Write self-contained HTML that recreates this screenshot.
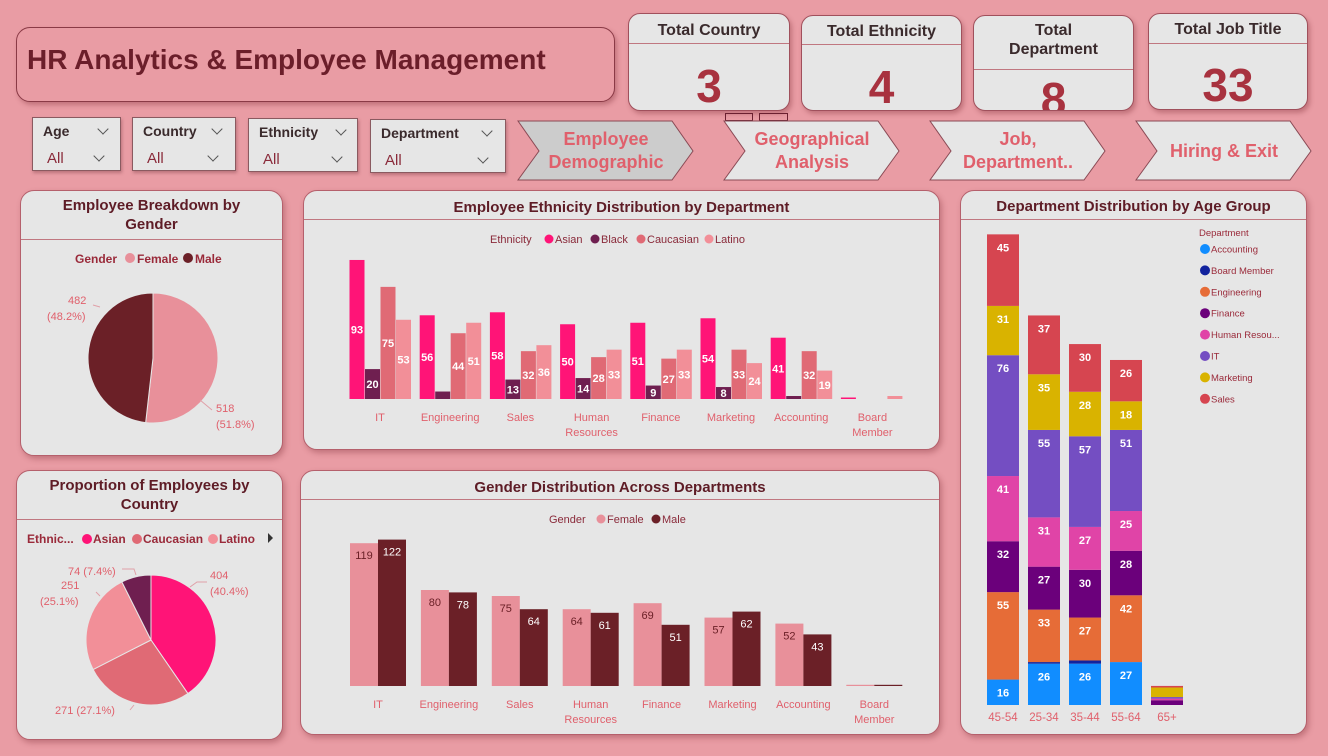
<!DOCTYPE html>
<html><head><meta charset="utf-8">
<style>
*{box-sizing:border-box;margin:0;padding:0}
body{width:1328px;height:756px;background:#e99ca4;font-family:"Liberation Sans",sans-serif;position:relative;overflow:hidden}
.abs{position:absolute}
.panel{position:absolute;background:#e6e6e6;border:1px solid #b5606c;border-radius:14px;box-shadow:2px 3px 6px rgba(120,40,50,.35)}
.ptitle{position:absolute;left:0;right:0;text-align:center;color:#5e1c26;font-weight:bold;font-size:15px;line-height:19px}
.pline{position:absolute;left:0;right:0;border-top:1px solid #c07780}
.kpi{position:absolute;background:#e6e6e6;border:1px solid #a0505c;border-radius:12px;box-shadow:2px 3px 5px rgba(120,40,50,.35);text-align:center}
.kpi .t{color:#3a2a2c;font-weight:bold;font-size:16px;line-height:19px}
.kpi .v{position:absolute;left:0;right:0;color:#a8323f;font-weight:bold;font-size:46px}
.slicer{position:absolute;background:#e6e6e6;border:1px solid #8a5a60;box-shadow:1px 2px 3px rgba(100,40,50,.35)}
.slicer .h{position:absolute;left:10px;top:5px;font-size:14px;font-weight:bold;color:#3a2a2c}
.slicer .a{position:absolute;left:14px;bottom:3px;font-size:15px;color:#8a2a3a}
.chev{position:absolute;width:8px;height:8px;border-right:1px solid #555;border-bottom:1px solid #555;transform:rotate(45deg)}
.btn{position:absolute}
.btn span{position:absolute;left:0;right:0;text-align:center;color:#e0606c;font-weight:bold;font-size:18px;line-height:23px}
svg text{font-family:"Liberation Sans",sans-serif}
</style></head><body>

<div class="abs" style="left:16px;top:27px;width:599px;height:75px;background:#e99ca4;border:1px solid #8a3a46;border-radius:14px;box-shadow:2px 3px 5px rgba(120,40,50,.35)">
<div style="position:absolute;left:10px;top:16px;font-size:28px;font-weight:bold;color:#6b1e2a">HR Analytics &amp; Employee Management</div></div>

<div class="kpi" style="left:628px;top:13px;width:162px;height:98px"><div class="t" style="margin-top:7px">Total Country</div><div class="pline" style="top:29px"></div><div class="v" style="top:45px">3</div></div>
<div class="kpi" style="left:801px;top:15px;width:161px;height:96px"><div class="t" style="margin-top:6px">Total Ethnicity</div><div class="pline" style="top:28px"></div><div class="v" style="top:44px">4</div></div>
<div class="kpi" style="left:973px;top:15px;width:161px;height:96px;overflow:hidden"><div class="t" style="margin-top:5px">Total<br>Department</div><div class="pline" style="top:53px"></div><div class="v" style="top:56px">8</div></div>
<div class="kpi" style="left:1148px;top:13px;width:160px;height:97px"><div class="t" style="margin-top:6px">Total Job Title</div><div class="pline" style="top:29px"></div><div class="v" style="top:44px">33</div></div>

<div class="abs" style="left:725px;top:113px;width:28px;height:8px;border:1px solid #6b2030"></div>
<div class="abs" style="left:759px;top:113px;width:29px;height:8px;border:1px solid #6b2030"></div>

<div class="slicer" style="left:32px;top:117px;width:89px;height:54px"><div class="h">Age</div><div class="chev" style="left:66px;top:7px"></div><div class="a">All</div><div class="chev" style="left:62px;top:34px"></div></div>
<div class="slicer" style="left:132px;top:117px;width:104px;height:54px"><div class="h">Country</div><div class="chev" style="left:80px;top:7px"></div><div class="a">All</div><div class="chev" style="left:76px;top:34px"></div></div>
<div class="slicer" style="left:248px;top:118px;width:110px;height:54px"><div class="h">Ethnicity</div><div class="chev" style="left:88px;top:7px"></div><div class="a">All</div><div class="chev" style="left:84px;top:34px"></div></div>
<div class="slicer" style="left:370px;top:119px;width:136px;height:54px"><div class="h">Department</div><div class="chev" style="left:112px;top:7px"></div><div class="a">All</div><div class="chev" style="left:108px;top:34px"></div></div>

<div class="btn" style="left:517px;top:120px;width:178px;height:62px">
<svg width="178" height="62" style="position:absolute;left:0;top:0"><polygon points="1,1 155,1 176,31 155,60 1,60 22,31" fill="#cccccc" stroke="#8a4a55"/></svg><span style="top:8px">Employee<br>Demographic</span></div>
<div class="btn" style="left:723px;top:120px;width:178px;height:62px">
<svg width="178" height="62" style="position:absolute;left:0;top:0"><polygon points="1,1 155,1 176,31 155,60 1,60 22,31" fill="#e6e6e6" stroke="#8a4a55"/></svg><span style="top:8px">Geographical<br>Analysis</span></div>
<div class="btn" style="left:929px;top:120px;width:178px;height:62px">
<svg width="178" height="62" style="position:absolute;left:0;top:0"><polygon points="1,1 155,1 176,31 155,60 1,60 22,31" fill="#e6e6e6" stroke="#8a4a55"/></svg><span style="top:8px">Job,<br>Department..</span></div>
<div class="btn" style="left:1135px;top:120px;width:178px;height:62px">
<svg width="178" height="62" style="position:absolute;left:0;top:0"><polygon points="1,1 155,1 176,31 155,60 1,60 22,31" fill="#e6e6e6" stroke="#8a4a55"/></svg><span style="top:20px">Hiring &amp; Exit</span></div>

<div class="panel" style="left:20px;top:190px;width:263px;height:266px">
<div class="ptitle" style="top:5px">Employee Breakdown by<br>Gender</div><div class="pline" style="top:48px"></div></div>
<div class="panel" style="left:303px;top:190px;width:637px;height:260px">
<div class="ptitle" style="top:7px">Employee Ethnicity Distribution by Department</div><div class="pline" style="top:28px"></div></div>
<div class="panel" style="left:16px;top:470px;width:267px;height:270px">
<div class="ptitle" style="top:5px">Proportion of Employees by<br>Country</div><div class="pline" style="top:48px"></div></div>
<div class="panel" style="left:300px;top:470px;width:640px;height:265px">
<div class="ptitle" style="top:7px">Gender Distribution Across Departments</div><div class="pline" style="top:28px"></div></div>
<div class="panel" style="left:960px;top:190px;width:347px;height:545px">
<div class="ptitle" style="top:6px">Department Distribution by Age Group</div><div class="pline" style="top:28px"></div></div>

<svg id="ov" width="1328" height="756" style="position:absolute;left:0;top:0"></svg>

<script>
// Gender pie
const genderCats=["Female","Male"];
const genderVals=[518,482];
// Country/ethnicity pie
const ethPieCats=["Asian","Caucasian","Latino","Black"];
const ethPieVals=[404,271,251,74];
// Ethnicity by department
const deptCats=["IT","Engineering","Sales","Human Resources","Finance","Marketing","Accounting","Board Member"];
const ethSeries=["Asian","Black","Caucasian","Latino"];
const asianVals=[93,56,58,50,51,54,41,1];
const blackVals=[20,5,13,14,9,8,2,0];
const caucVals=[75,44,32,28,27,33,32,0];
const latinoVals=[53,51,36,33,33,24,19,2];
// Gender by department
const femaleVals=[119,80,75,64,69,57,52,1];
const maleVals=[122,78,64,61,51,62,43,1];
// Age group stacked
const ageCats=["45-54","25-34","35-44","55-64","65+"];
const stackDepts=["Accounting","Board Member","Engineering","Finance","Human Resou...","IT","Marketing","Sales"];
const accVals=[16,26,26,27,0];
const boardVals=[0,1,2,0,0];
const engVals=[55,33,27,42,0];
const finVals=[32,27,30,28,3];
const hrVals=[41,31,27,25,1];
const itVals=[76,55,57,51,1];
const mktVals=[31,35,28,18,6];
const salesVals=[45,37,30,26,1];

const NS="http://www.w3.org/2000/svg";
const svg=document.getElementById('ov');
function mk(tag,attrs,parent){const e=document.createElementNS(NS,tag);for(const k in attrs)e.setAttribute(k,attrs[k]);(parent||svg).appendChild(e);return e;}
function txt(x,y,s,attrs,name){const t=mk('text',Object.assign({x:x,y:y},attrs));t.textContent=s;


return t;}

function pie(cx,cy,r,vals,colors,nm){
  const tot=vals.reduce((a,b)=>a+b,0);let a0=-Math.PI/2;const out=[];
  vals.forEach((v,i)=>{const a1=a0+v/tot*2*Math.PI;
    const large=(a1-a0)>Math.PI?1:0;
    const p=mk('path',{d:`M${cx},${cy} L${cx+r*Math.cos(a0)},${cy+r*Math.sin(a0)} A${r},${r} 0 ${large} 1 ${cx+r*Math.cos(a1)},${cy+r*Math.sin(a1)} Z`,fill:colors[i],stroke:'#e6e6e6','stroke-width':1});
    
    
    out.push((a0+a1)/2);a0=a1;});
  return out;
}
// gender pie
const gCol=["#e8909a","#6b2027"];
pie(153,358,65,genderVals,gCol,'gender');
const gt=genderVals.reduce((a,b)=>a+b,0);
const lbl={fill:'#e0606c','font-size':11};
txt(216,412,String(genderVals[0]),lbl,'female-value-label');
txt(216,428,'('+(genderVals[0]/gt*100).toFixed(1)+'%)',lbl,'female-pct-label');
txt(68,304,String(genderVals[1]),lbl,'male-value-label');
txt(47,320,'('+(genderVals[1]/gt*100).toFixed(1)+'%)',lbl,'male-pct-label');
mk('path',{d:'M200,400 L212,410',stroke:'#e0a0a8',fill:'none'});
mk('path',{d:'M93,305 L100,307',stroke:'#e0a0a8',fill:'none'});
// gender legend
txt(75,263,'Gender',{fill:'#9a2a3a','font-size':12,'font-weight':'bold'},'gender-legend-title');
genderCats.forEach((c,i)=>{const x=[130,188][i];
 const d=mk('circle',{cx:x,cy:258,r:5,fill:gCol[i]});
 txt(x+7,263,c,{fill:'#9a2a3a','font-size':12,'font-weight':'bold'},'gender-legend-'+c.toLowerCase());});

// country pie
const eCol=["#ff1477","#e06a75","#f28f98","#6f1f50"];
pie(151,640,65,ethPieVals,eCol,'ethnicity-pie');
const et=ethPieVals.reduce((a,b)=>a+b,0);
const pc=i=>(ethPieVals[i]/et*100).toFixed(1)+'%';
txt(210,579,String(ethPieVals[0]),lbl,'asian-value-label');
txt(210,595,'('+pc(0)+')',lbl,'asian-pct-label');
txt(55,714,ethPieVals[1]+' ('+pc(1)+')',lbl,'caucasian-value-label');
txt(61,589,String(ethPieVals[2]),lbl,'latino-value-label');
txt(40,605,'('+pc(2)+')',lbl,'latino-pct-label');
txt(68,575,ethPieVals[3]+' ('+pc(3)+')',lbl,'black-value-label');
mk('path',{d:'M190,587 L197,582 L207,582',stroke:'#e0a0a8',fill:'none'});
mk('path',{d:'M130,710 L134,705',stroke:'#e0a0a8',fill:'none'});
mk('path',{d:'M96,592 L100,596',stroke:'#e0a0a8',fill:'none'});
mk('path',{d:'M122,569 L134,569 L136,575',stroke:'#e0a0a8',fill:'none'});
const lb2={fill:'#9a2a3a','font-size':12,'font-weight':'bold'};
txt(27,543,'Ethnic...',lb2,'country-legend-title');
[["Asian",87],["Caucasian",137],["Latino",213]].forEach((e,i)=>{
 const d=mk('circle',{cx:e[1],cy:539,r:5,fill:eCol[i]});
 txt(e[1]+6,543,e[0],lb2,'country-legend-'+e[0].toLowerCase());});
const ar=mk('path',{d:'M268,533 L273,538 L268,543 Z',fill:'#333'});

// ethnicity grouped bars
const ethData=[asianVals,blackVals,caucVals,latinoVals];
const ethCol=["#ff1477","#6f1f50","#e06a75","#f28f98"];
const eBase=399, eScale=1.495;
const eX=i=>380+i*70.2;
const eY=v=>eBase-v*eScale;
ethData.forEach((arr,s)=>arr.forEach((v,i)=>{
  const x=eX(i)+(s-2)*15.5+0.5;const h=v*eScale;
  const r=mk('rect',{x:x,y:eY(v),width:15,height:h,fill:ethCol[s]});
  
  
  if(v>=8) txt(x+7.5,eY(v)+h/2+4,String(v),{fill:'#fff','font-size':11,'font-weight':'bold','text-anchor':'middle'},'ethnicity-bar-label');
}));
deptCats.forEach((c,i)=>{const w=c.split(' ');
 const two=(c==="Human Resources"||c==="Board Member");
 if(two){txt(eX(i)+1,421,w[0],{fill:'#e0606c','font-size':11,'text-anchor':'middle'},'ethnicity-x-label');txt(eX(i)+1,436,w[1],{fill:'#e0606c','font-size':11,'text-anchor':'middle'},'ethnicity-x-label');}
 else txt(eX(i),421,c,{fill:'#e0606c','font-size':11,'text-anchor':'middle'},'ethnicity-x-label');});
const lb3={fill:'#8a2a3a','font-size':11};
txt(490,243,'Ethnicity',lb3,'ethnicity-legend-title');
[["Asian",549],["Black",595],["Caucasian",641],["Latino",709]].forEach((e,i)=>{
 const d=mk('circle',{cx:e[1],cy:239,r:4.5,fill:ethCol[i]});
 txt(e[1]+6,243,e[0],lb3,'ethnicity-legend-'+e[0].toLowerCase());});

// gender by department
const gBase=686,gScale=1.2;
const gX=i=>378+i*70.9;
const gY=v=>gBase-v*gScale;
[femaleVals,maleVals].forEach((arr,s)=>arr.forEach((v,i)=>{
  const x=gX(i)+(s===0?-28:0);const h=v*gScale;
  const r=mk('rect',{x:x,y:gY(v),width:28,height:h,fill:gCol[s]});
  
  
  if(v>=5) txt(x+14,gY(v)+16,String(v),{fill:s===0?'#6b2027':'#fff','font-size':11,'text-anchor':'middle'},'gender-dept-bar-label');
}));
deptCats.forEach((c,i)=>{const w=c.split(' ');
 const two=(c==="Human Resources"||c==="Board Member");
 if(two){txt(gX(i),708,w[0],{fill:'#e0606c','font-size':11,'text-anchor':'middle'},'gender-dept-x-label');txt(gX(i),723,w[1],{fill:'#e0606c','font-size':11,'text-anchor':'middle'},'gender-dept-x-label');}
 else txt(gX(i),708,c,{fill:'#e0606c','font-size':11,'text-anchor':'middle'},'gender-dept-x-label');});
txt(549,523,'Gender',lb3,'gender-dept-legend-title');
[["Female",601],["Male",656]].forEach((e,i)=>{
 const d=mk('circle',{cx:e[1],cy:519,r:4.5,fill:gCol[i]});
 txt(e[1]+6,523,e[0],lb3,'gender-dept-legend-'+e[0].toLowerCase());});

// stacked age chart
const stackData=[accVals,boardVals,engVals,finVals,hrVals,itVals,mktVals,salesVals];
const sCol=["#118dff","#12239e","#e66c37","#6b007b","#e044a7","#744ec2","#d9b300","#d64550"];
const sBase=705,sScale=1.59;
const sX=i=>1003+i*41;
ageCats.forEach((c,i)=>{let acc=0;
  stackData.forEach((arr,s)=>{const v=arr[i];if(v<=0)return;
    const y0=sBase-acc*sScale;const h=v*sScale;
    const r=mk('rect',{x:sX(i)-16,y:y0-h,width:32,height:h,fill:sCol[s]});
    
    
    if(v>=10) txt(sX(i),y0-h+17,String(v),{fill:'#fff','font-size':11,'font-weight':'bold','text-anchor':'middle'},'age-stack-label');
    acc+=v;});
  txt(sX(i),721,c,{fill:'#e0606c','font-size':11.5,'text-anchor':'middle'},'age-x-label');
});
txt(1199,236,'Department',{fill:'#9a2a3a','font-size':9.5},'age-legend-title');
stackDepts.forEach((d,i)=>{const y=249+i*21.4;
 const c=mk('circle',{cx:1205,cy:y,r:5,fill:sCol[i]});
 txt(1211,y+3.5,d,{fill:'#9a2a3a','font-size':9.5},'age-legend-entry');});
</script>
</body></html>
